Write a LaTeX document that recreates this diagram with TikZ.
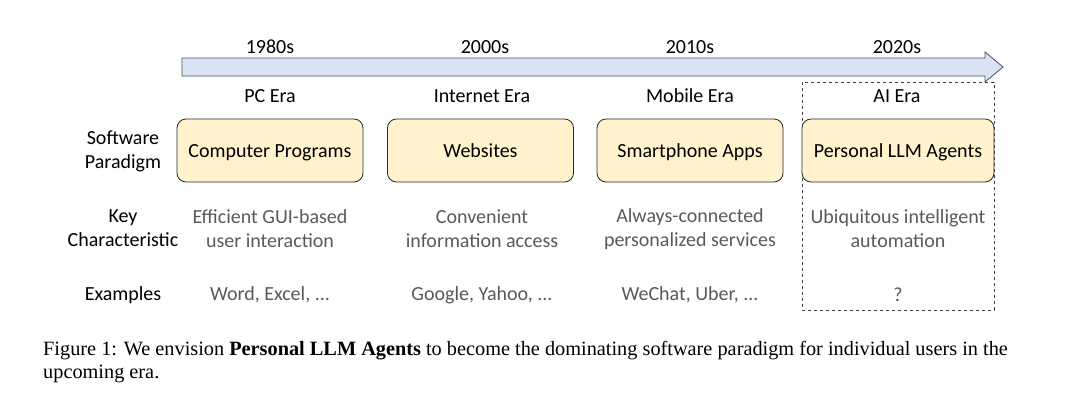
\documentclass[tikz,border=0pt]{standalone}
\usepackage{fontspec}
\setmainfont{Carlito}
\newfontfamily\capfont{Liberation Serif}
\definecolor{arrowfill}{HTML}{DAE3F3}
\definecolor{arrowdraw}{HTML}{44546A}
\definecolor{boxfill}{HTML}{FFF2CC}
\definecolor{greytext}{HTML}{595959}
\tikzset{
  lbl/.style={font=\fontsize{20}{24}\selectfont, text=black, align=center, inner sep=0pt},
  yearlbl/.style={font=\fontsize{20}{24}\selectfont, text=black, inner sep=0pt},
  para/.style={draw=black!85, line width=0.8pt, fill=boxfill, rounded corners=9pt, minimum width=186, minimum height=63, font=\fontsize{20}{24}\selectfont, inner sep=0pt, text height=17, text depth=4},
  chartext/.style={font=\fontsize{20}{24}\selectfont, text=greytext, align=center, inner sep=0pt},
}
\begin{document}
\begin{tikzpicture}[x=1pt,y=-1pt]
\useasboundingbox (0,0) rectangle (1080,405);
% timeline arrow
\draw[draw=arrowdraw, fill=arrowfill, line width=0.8pt] (182,58) -- (985,58) -- (985,52) -- (1003,67) -- (985,82) -- (985,76) -- (182,76) -- cycle;
% years
\node[yearlbl] (y1) at (270,47) {1980s};
\node[yearlbl] (y2) at (485,47) {2000s};
\node[yearlbl] (y3) at (690,47) {2010s};
\node[yearlbl] (y4) at (897,47) {2020s};
% eras
\node[yearlbl] (e1) at (270,96) {PC Era};
\node[yearlbl] (e2) at (482,96) {Internet Era};
\node[yearlbl] (e3) at (690,96) {Mobile Era};
\node[yearlbl] (e4) at (897,96) {AI Era};
% dashed box
\draw[dashed, draw=black!75, line width=0.8pt] (802,82) rectangle (994,310);
% paradigm boxes
\node[para] (b1) at (270,150.5) {Computer Programs};
\node[para] (b2) at (480.5,150.5) {Websites};
\node[para] (b3) at (690,150.5) {Smartphone Apps};
\node[para, minimum width=192] (b4) at (898,150.5) {Personal LLM Agents};
% row labels
\node[lbl] (r1) at (123,151.5) {Software\\Paradigm};
\node[lbl] (r2) at (123,228.5) {Key\\Characteristic};
\node[lbl] (r3) at (123,295) {Examples};
% characteristics
\node[chartext] (c1) at (270,229) {Efficient GUI-based\\user interaction};
\node[chartext] (c2) at (482,229) {Convenient\\information access};
\node[chartext] (c3) at (690,229) {Always-connected\\personalized services};
\node[chartext] (c4) at (898,229) {Ubiquitous intelligent\\automation};
% examples
\node[chartext] (x1) at (270,295) {Word, Excel, ...};
\node[chartext] (x2) at (482,295) {Google, Yahoo, ...};
\node[chartext] (x3) at (690,295) {WeChat, Uber, ...};
\node[chartext] (x4) at (898,295) {?};
% caption
\node[anchor=north west, inner sep=0pt, align=left, font=\capfont\fontsize{20.3}{23}\selectfont] (cap) at (43,341) {Figure 1: We envision \textbf{Personal LLM Agents} to become the dominating software paradigm for individual users in the\\upcoming era.};
\end{tikzpicture}
\end{document}
